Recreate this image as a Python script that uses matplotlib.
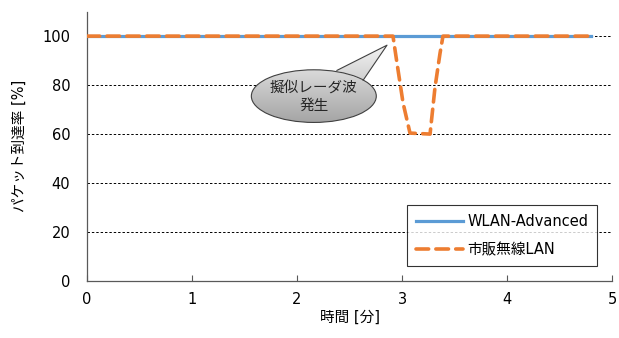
import numpy as np
import matplotlib.pyplot as plt
from matplotlib.patches import Ellipse, Polygon, PathPatch
from matplotlib.path import Path
from matplotlib.transforms import IdentityTransform

plt.rcParams['font.family'] = ['DejaVu Sans', 'Noto Sans CJK JP']

# WLAN-Advanced: stays at 100% throughout
wlan_t = [0.0, 4.8]
wlan_v = [100, 100]

# commercial WLAN: drops while the pseudo radar is on
lan_t = [0.0, 2.914, 2.952, 3.01, 3.076, 3.267, 3.314, 3.362, 3.39, 4.8]
lan_v = [100, 100, 89, 72.7, 60.4, 60, 79, 93, 100, 100]

xticks = [0, 1, 2, 3, 4, 5]
yticks = [0, 20, 40, 60, 80, 100]

fig = plt.figure(figsize=(6.19, 3.38), dpi=100)
ax = fig.add_axes([0.1406, 0.1686, 0.8481, 0.797])

for y in yticks[1:]:
    ax.axhline(y, color='black', lw=0.7, ls=(0, (2.5, 2)), zorder=1)

ax.plot(wlan_t, wlan_v, color='#5B9BD5', lw=2.3, label='WLAN-Advanced', zorder=3)
ax.plot(lan_t, lan_v, color='#ED7D31', lw=2.6, dashes=(3.5, 2),
        dash_capstyle='round', label='市販無線LAN', zorder=4)

ax.set_xticks(xticks)
ax.set_yticks(yticks)
ax.tick_params(axis='x', direction='in', length=4, width=0.8, color='#595959',
               labelsize=10.5, pad=8)
ax.tick_params(axis='y', length=0, labelsize=10.5, pad=12)
for s in ['top', 'right']:
    ax.spines[s].set_visible(False)
for s in ['left', 'bottom']:
    ax.spines[s].set_color('#595959')
    ax.spines[s].set_linewidth(0.9)

ax.set_xlabel('時間 [分]', fontsize=10.5, labelpad=2)
ax.set_ylabel('パケット到達率 [%]', fontsize=10.5, labelpad=11)

# callout bubble with a light-to-grey vertical gradient
ell = Ellipse((2.16, 75.5), 1.19, 21.5, transform=ax.transData)
wedge = Polygon([(2.38, 86.0), (2.857, 96.3), (2.63, 82.0)], closed=True,
                transform=ax.transData)
ax.set_xlim(0, 5)
ax.set_ylim(0, 110)
clip = Path.make_compound_path(ell.get_transform().transform_path(ell.get_path()),
                               wedge.get_transform().transform_path(wedge.get_path()))
top = np.array([0.96, 0.96, 0.96])
bot = np.array([0.64, 0.64, 0.64])
f = np.linspace(0, 1, 256).reshape(-1, 1, 1)
grad = top * (1 - f) + bot * f
im = ax.imshow(grad, aspect='auto', extent=(1.5, 2.9, 64, 97),
               origin='upper', zorder=5, interpolation='bilinear')
pp = PathPatch(clip, transform=IdentityTransform(), facecolor='none',
               edgecolor='none')
ax.add_patch(pp)
im.set_clip_path(pp)
ax.add_patch(Ellipse((2.16, 75.5), 1.19, 21.5, facecolor='none',
                     edgecolor='#404040', lw=0.8, zorder=6))
ax.plot([2.38, 2.857, 2.63], [86.0, 96.3, 82.0], color='#404040', lw=0.8,
        zorder=6)
ax.text(2.16, 75.5, '擬似レーダ波\n発生', ha='center', va='center',
        fontsize=10.5, linespacing=1.25, zorder=7, color='#262626')
ax.set_xlim(0, 5)
ax.set_ylim(0, 110)

leg = ax.legend(loc='lower right', bbox_to_anchor=(0.985, 0.03), fontsize=10.5,
                frameon=True, fancybox=False, edgecolor='black',
                handlelength=3.2, borderpad=0.6, labelspacing=0.9,
                handletextpad=0.3)
leg.get_frame().set_linewidth(0.8)
leg.set_zorder(8)

fig.savefig('out.png', dpi=100)
